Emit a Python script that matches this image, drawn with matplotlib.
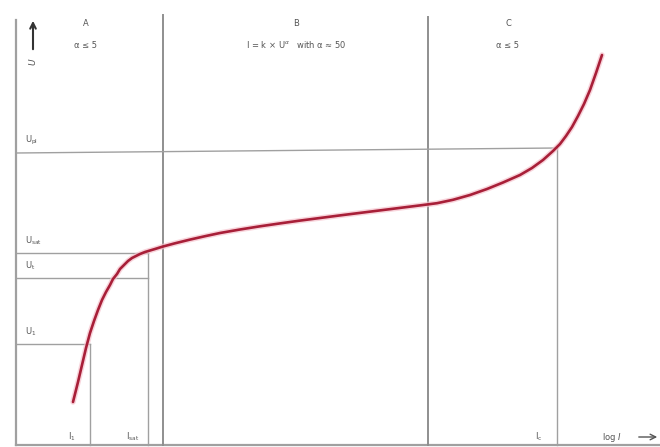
import matplotlib.pyplot as plt

# varistor U-I characteristic (pixel-like units, y down)
curve_x = [73, 78, 82, 86, 90, 94, 98, 102, 106, 110, 113, 117, 120, 124, 128,
           132, 136, 140, 145, 150, 155, 163, 175, 190, 205, 220, 240, 260, 280,
           300, 320, 340, 360, 380, 400, 420, 437, 453, 470, 487, 503, 520,
           532, 543, 553, 560, 566, 572, 578, 584, 590, 596, 602]
curve_y = [402, 382, 365, 348, 333, 321, 310, 300, 292, 285, 279, 274, 269, 265, 261,
           258, 256, 254, 252, 250.5, 249, 246.5, 243.3, 239.6, 236.2, 233, 229.5, 226.3, 223.4,
           220.6, 218, 215.4, 212.9, 210.4, 207.9, 205.4, 203.2, 199.8, 195, 189, 182.5, 175,
           168, 160, 151, 144, 136, 127, 116, 104, 90, 73, 55]

# region dividers and guide lines
region_x = [163, 428]
region_top = [15, 17]
region_names = ['A', 'B', 'C']
region_notes = [r'α ≤ 5', r'I = k × U$^{α}$   with α ≈ 50', r'α ≤ 5']
region_label_x = [86, 296, 508]

u_labels = [r'$\mathregular{U_{pl}}$', r'$\mathregular{U_{sat}}$',
            r'$\mathregular{U_{t}}$', r'$\mathregular{U_{1}}$']
u_levels = [153, 253, 278, 344]
u_right_levels = [148, 253, 278, 344]
u_ends = [557, 148, 148, 90]

i_labels = [r'$\mathregular{I_{1}}$', r'$\mathregular{I_{sat}}$', r'$\mathregular{I_{c}}$']
i_pos = [90, 148, 557]
i_tops = [344, 253, 148]

grey = '#a0a0a0'
txt = '#555555'

fig = plt.figure(figsize=(6.6, 4.47), dpi=100)
ax = fig.add_axes([0, 0, 1, 1])
ax.set_xlim(0, 660)
ax.set_ylim(447, 0)
ax.axis('off')

# axes frame
ax.plot([16, 16], [20, 445], color=grey, lw=1.6)
ax.plot([16, 660], [445, 445], color=grey, lw=1.6)

for x, top in zip(region_x, region_top):
    ax.plot([x, x], [top, 445], color='#8f8f8f', lw=1.4)

for lab, y, y2, xe in zip(u_labels, u_levels, u_right_levels, u_ends):
    ax.plot([16, xe], [y, y2], color=grey, lw=1.0)
    ax.text(25, y - 6, lab, fontsize=6, color=txt, va='bottom', ha='left')

for lab, x, top in zip(i_labels, i_pos, i_tops):
    ax.plot([x, x], [top, 445], color=grey, lw=1.0)
    ax.text(x - 22, 437, lab, fontsize=6, color=txt, va='center', ha='left')

for name, note, x in zip(region_names, region_notes, region_label_x):
    ax.text(x, 24, name, fontsize=6, color=txt, ha='center', va='center')
    ax.text(x, 45, note, fontsize=6, color=txt, ha='center', va='center')

# curve with soft pink halo
ax.plot(curve_x, curve_y, color='#f6c3cd', lw=4.0, solid_capstyle='round',
        solid_joinstyle='round', alpha=0.7)
ax.plot(curve_x, curve_y, color='#a81f38', lw=1.9, solid_capstyle='round',
        solid_joinstyle='round')

# axis arrows and names
ax.annotate('', xy=(33, 18), xytext=(33, 52),
            arrowprops=dict(arrowstyle='->', color='#333333', lw=1.5))
ax.text(33, 62, 'U', fontsize=6.5, color=txt, rotation=90, ha='center', va='center',
        style='italic')
ax.text(602, 437, 'log $I$', fontsize=6, color=txt, ha='left', va='center')
ax.annotate('', xy=(660, 437), xytext=(636, 437),
            arrowprops=dict(arrowstyle='->', color='#555555', lw=1.0))

fig.savefig('out.png', dpi=100)
